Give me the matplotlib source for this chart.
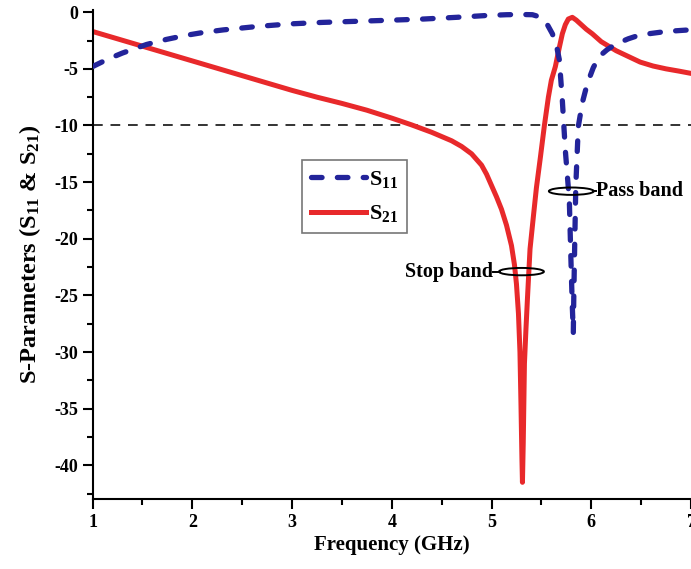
import matplotlib.pyplot as plt
from matplotlib.patches import Ellipse

plt.rcParams["font.family"] = "Liberation Serif"
plt.rcParams["font.weight"] = "bold"
plt.rcParams["axes.unicode_minus"] = False
plt.rcParams["mathtext.fontset"] = "custom"
plt.rcParams["mathtext.rm"] = "Liberation Serif:bold"
plt.rcParams["mathtext.it"] = "Liberation Serif:bold"
plt.rcParams["mathtext.bf"] = "Liberation Serif:bold"

# S11 (reflection) in dB
s11_freq = [1.0, 1.15, 1.3, 1.54, 1.74, 1.93, 2.1, 2.31, 2.66, 2.98, 3.3, 3.65,
            4.0, 4.32, 4.65, 4.93, 5.15, 5.3, 5.41, 5.46, 5.51, 5.56, 5.61,
            5.65, 5.68, 5.71, 5.74, 5.78, 5.795, 5.81, 5.82, 5.825, 5.835, 5.845,
            5.87, 5.91, 5.96, 6.02, 6.08, 6.16, 6.25, 6.37, 6.49, 6.62, 6.75,
            6.88, 7.0]
s11_db = [-4.8, -4.15, -3.6, -2.85, -2.4, -2.05, -1.8, -1.56, -1.25, -1.03, -0.9, -0.8,
          -0.7, -0.6, -0.45, -0.3, -0.22, -0.2, -0.22, -0.35, -0.6, -1.1, -1.9,
          -2.9, -4.2, -7.8, -12.2, -16.6, -21.5, -26.0, -28.3, -25.0, -20.0, -15.3,
          -10.1, -8.0, -6.3, -4.9, -3.9, -3.3, -2.8, -2.35, -2.0, -1.85, -1.7,
          -1.62, -1.55]

# S21 (transmission) in dB
s21_freq = [1.0, 1.25, 1.5, 1.75, 2.0, 2.25, 2.5, 2.75, 3.0, 3.25, 3.5, 3.75,
            4.0, 4.2, 4.4, 4.6, 4.7, 4.8, 4.9, 4.95, 5.0, 5.05, 5.1, 5.15, 5.2,
            5.23, 5.25, 5.27, 5.285, 5.295, 5.305, 5.31, 5.318, 5.33, 5.345, 5.36,
            5.386, 5.42, 5.45, 5.49, 5.53, 5.57, 5.6, 5.64, 5.68, 5.71, 5.74,
            5.77, 5.81, 5.85, 5.9, 5.95, 6.01, 6.1, 6.25, 6.37, 6.49, 6.62,
            6.75, 6.88, 7.0]
s21_db = [-1.7, -2.35, -3.0, -3.65, -4.3, -4.95, -5.6, -6.25, -6.9, -7.5, -8.05, -8.65,
          -9.35, -9.95, -10.6, -11.35, -11.85, -12.5, -13.5, -14.3, -15.3, -16.3, -17.4,
          -18.8, -20.6, -22.3, -24.0, -26.6, -30.0, -34.5, -39.5, -41.5, -38.0,
          -31.0, -28.0, -25.3, -20.9, -18.0, -15.5, -12.8, -10.0, -7.5, -6.0, -4.8,
          -3.1, -1.9, -1.1, -0.6, -0.45, -0.7, -1.1, -1.5, -1.9, -2.6, -3.4, -3.9,
          -4.4, -4.75, -5.0, -5.2, -5.4]

REF_LEVEL = -10

fig = plt.figure(figsize=(6.91, 5.69), dpi=100)
ax = fig.add_axes([0.134, 0.1225, 0.866, 0.86])

ax.axhline(REF_LEVEL, color="#333333", lw=1.4, ls=(0, (5, 4)), zorder=1)
ax.plot(s21_freq, s21_db, color="#e8292b", lw=3.6, solid_joinstyle="round",
        label="S$_{21}$", zorder=2)
ax.plot(s11_freq, s11_db, color="#23249a", lw=3.8, ls=(0, (2.0, 2.9)),
        dash_capstyle="round", label="S$_{11}$", zorder=3)

ax.set_xlim(1, 7)
ax.set_ylim(-43.0, 0.2)
ax.set_xticks(range(1, 8))
ax.set_yticks(range(-40, 1, 5))
ax.set_xticks([x + 0.5 for x in range(1, 7)], minor=True)
ax.set_yticks([-42.5 + 5 * k for k in range(9)], minor=True)
ax.tick_params(which="major", direction="out", length=7, width=1.5, labelsize=13)
ax.tick_params(which="minor", direction="out", length=4, width=1.5)
for s in ("top", "right"):
    ax.spines[s].set_visible(False)
for s in ("left", "bottom"):
    ax.spines[s].set_linewidth(1.5)

ax.set_xlabel("Frequency (GHz)", fontsize=15, fontweight="bold", labelpad=3)
ax.set_ylabel("S-Parameters (S$_{11}$ & S$_{21}$)", fontsize=17.5, fontweight="bold",
              labelpad=8)

handles, labels = ax.get_legend_handles_labels()
leg = ax.legend(handles[::-1], labels[::-1], loc="upper left",
                bbox_to_anchor=(0.350, 0.693), fontsize=16, frameon=True,
                fancybox=False, edgecolor="#555555", handlelength=2.5,
                handletextpad=0.1, borderpad=0.4, labelspacing=0.6,
                borderaxespad=0)
leg.get_frame().set_linewidth(1.2)

# band markers
ax.add_patch(Ellipse((5.30, -22.9), 0.45, 0.65, fill=False, ec="black", lw=1.4, zorder=4))
ax.plot([5.01, 5.08], [-22.9, -22.9], color="black", lw=1.4, zorder=4)
ax.text(5.01, -22.9, "Stop band", ha="right", va="center", fontsize=14.5,
        fontweight="bold")

ax.add_patch(Ellipse((5.80, -15.8), 0.45, 0.65, fill=False, ec="black", lw=1.4, zorder=4))
ax.plot([6.02, 6.05], [-15.8, -15.8], color="black", lw=1.4, zorder=4)
ax.text(6.05, -15.8, "Pass band", ha="left", va="center", fontsize=14.5,
        fontweight="bold")

fig.savefig("out.png", dpi=100)
